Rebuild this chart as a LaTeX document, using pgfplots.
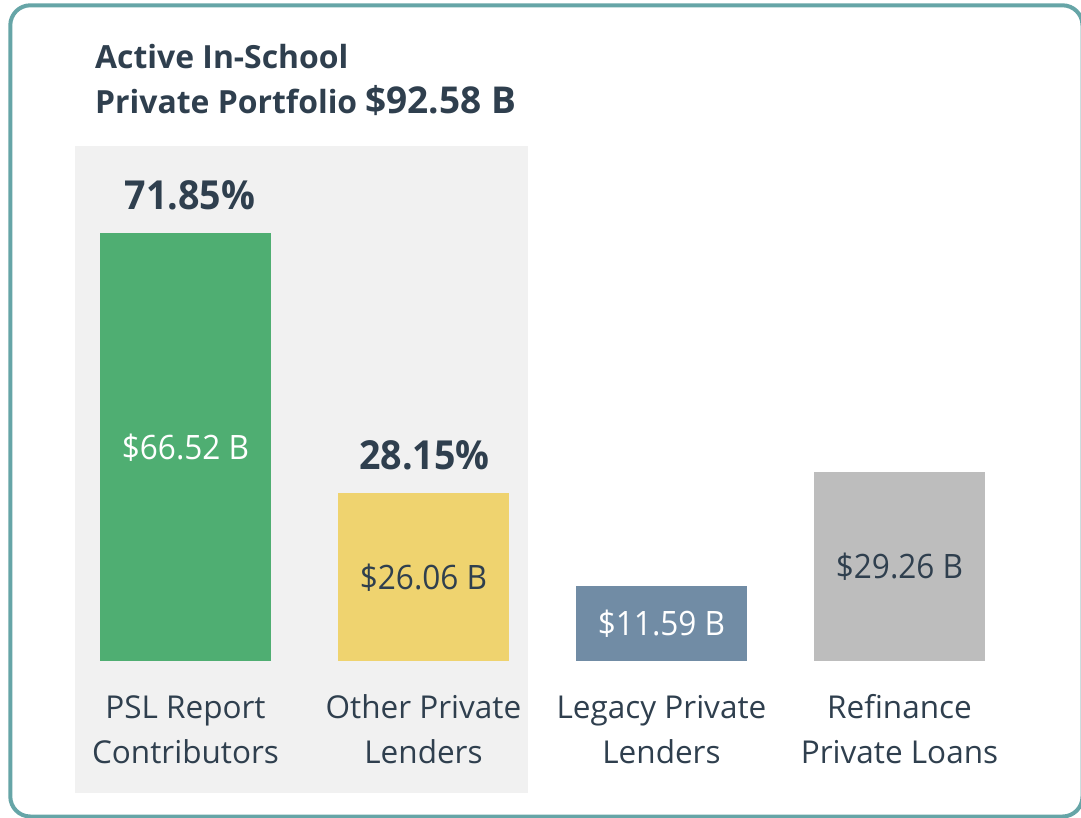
\documentclass[border=0pt]{standalone}
\usepackage{fontspec}
\setmainfont{Open Sans}[FakeStretch=0.94]
\newfontfamily\labelfont{Open Sans}
\usepackage{pgfplots}
\pgfplotsset{compat=1.18}
\definecolor{txt}{HTML}{2F3F4E}
\definecolor{pslgreen}{HTML}{4FAE72}
\definecolor{othyellow}{HTML}{EFD36F}
\definecolor{legblue}{HTML}{718CA5}
\definecolor{refgray}{HTML}{BDBDBD}
\definecolor{bggray}{HTML}{F1F1F1}
\definecolor{bordercol}{HTML}{66A5A7}
\tikzset{
  catA/.style={anchor=base, yshift=-57.5pt, text=txt, inner sep=0pt, font=\labelfont\fontsize{31.5}{36}\selectfont},
  catB/.style={anchor=base, yshift=-102.5pt, text=txt, inner sep=0pt, font=\labelfont\fontsize{31.5}{36}\selectfont},
  val/.style={anchor=base, yshift=-12.5pt, inner sep=0pt, font=\fontsize{33.6}{38}\selectfont},
  pct/.style={anchor=base, yshift=23pt, text=txt, inner sep=0pt, font=\fontsize{40}{44}\selectfont\bfseries},
}
\begin{document}
\begin{tikzpicture}
\useasboundingbox (0,0) rectangle (1081pt,-817pt);
\clip (0,0) rectangle (1081pt,-817pt);
\fill[white] (0,0) rectangle (1081pt,-817pt);
\fill[bggray] (75pt,-146pt) rectangle (528pt,-792.5pt);
\draw[bordercol, line width=4pt, rounded corners=20pt] (10.3pt,-5.3pt) rectangle (1082.5pt,-816.5pt);
\node[anchor=base west, text=txt, inner sep=0pt] at (95pt,-68.3pt) {\labelfont\fontsize{31.9}{36}\selectfont\bfseries Active In-School};
\node[anchor=base west, text=txt, inner sep=0pt] at (95pt,-113.3pt) {\labelfont\fontsize{31.9}{36}\selectfont\bfseries Private Portfolio \fontsize{37}{40}\selectfont\$92.58 B};
\begin{axis}[
  at={(66.5pt,-660.5pt)}, anchor=south west,
  scale only axis, width=952pt, height=514.72pt,
  xmin=-0.5, xmax=3.5, ymin=0, ymax=80,
  hide axis, clip=false,
  ybar, bar width=171pt,
]
\addplot[fill=pslgreen, draw=none, bar shift=0pt] coordinates {(0,66.52)};
\addplot[fill=othyellow, draw=none, bar shift=0pt] coordinates {(1,26.06)};
\addplot[fill=legblue, draw=none, bar shift=0pt] coordinates {(2,11.59)};
\addplot[fill=refgray, draw=none, bar shift=0pt] coordinates {(3,29.26)};
% value labels
\node[val, text=white] at (axis cs:0,33.26) {\$66.52 B};
\node[val, text=txt] at (axis cs:1,13.03) {\$26.06 B};
\node[val, text=white] at (axis cs:2,5.795) {\$11.59 B};
\node[val, text=txt] at (axis cs:3,14.63) {\$29.26 B};
% percentages
\node[pct, xshift=4.5pt] at (axis cs:0,66.52) {71.85\%};
\node[pct, xshift=1pt] at (axis cs:1,26.06) {28.15\%};
% category labels
\node[catA] at (axis cs:0,0) {PSL Report};
\node[catB] at (axis cs:0,0) {Contributors};
\node[catA] at (axis cs:1,0) {Other Private};
\node[catB] at (axis cs:1,0) {Lenders};
\node[catA] at (axis cs:2,0) {Legacy Private};
\node[catB] at (axis cs:2,0) {Lenders};
\node[catA] at (axis cs:3,0) {Refinance};
\node[catB] at (axis cs:3,0) {Private Loans};
\end{axis}
\end{tikzpicture}
\end{document}
